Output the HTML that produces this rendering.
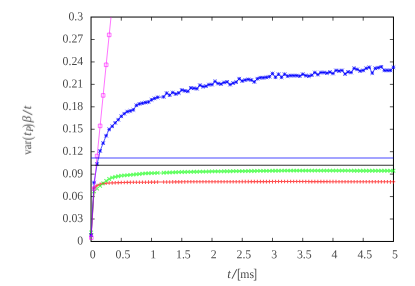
<!DOCTYPE html>
<html><head><meta charset="utf-8"><title>plot</title>
<style>html,body{margin:0;padding:0;background:#fff}svg{display:block}text{text-rendering:geometricPrecision;font-family:"Liberation Serif",serif;fill:#000}</style></head><body>
<svg width="415" height="286" viewBox="0 0 415 286">
<rect width="415" height="286" fill="#fff"/>
<g stroke="#000" stroke-width="1.00" fill="none">
<rect x="91.05" y="17.05" width="302.40" height="224.40"/>
</g>
<path d="M121.29 241.45v-3.60M121.29 17.05v3.60M151.53 241.45v-3.60M151.53 17.05v3.60M181.77 241.45v-3.60M181.77 17.05v3.60M212.01 241.45v-3.60M212.01 17.05v3.60M242.25 241.45v-3.60M242.25 17.05v3.60M272.49 241.45v-3.60M272.49 17.05v3.60M302.73 241.45v-3.60M302.73 17.05v3.60M332.97 241.45v-3.60M332.97 17.05v3.60M363.21 241.45v-3.60M363.21 17.05v3.60M91.05 219.01h3.60M393.45 219.01h-3.60M91.05 196.57h3.60M393.45 196.57h-3.60M91.05 174.13h3.60M393.45 174.13h-3.60M91.05 151.69h3.60M393.45 151.69h-3.60M91.05 129.25h3.60M393.45 129.25h-3.60M91.05 106.81h3.60M393.45 106.81h-3.60M91.05 84.37h3.60M393.45 84.37h-3.60M91.05 61.93h3.60M393.45 61.93h-3.60M91.05 39.49h3.60M393.45 39.49h-3.60" stroke="#000" stroke-width="0.68" fill="none"/>
<g fill="none" stroke-width="1.05" stroke-opacity="0.62">
<path stroke-opacity="0.68" stroke="#ff0000" d="M91.20 233.97L94.07 188.12L97.10 185.50L100.12 184.23L103.15 183.55L106.17 183.26L109.19 183.03L112.22 182.88L115.24 182.74L118.27 182.62L121.29 182.53L124.31 182.45L127.34 182.36L130.36 182.33L133.39 182.30L136.41 182.27L139.43 182.24L142.46 182.21L145.48 182.18L148.51 182.15L151.53 182.13L154.55 182.10L157.58 182.07L163.63 182.01L166.65 181.98L169.67 181.95L172.70 181.92L175.72 181.89L178.75 181.86L181.77 181.83L184.79 181.83L187.82 181.82L190.84 181.81L193.87 181.80L196.89 181.79L199.91 181.78L202.94 181.78L205.96 181.77L208.99 181.76L212.01 181.75L215.03 181.74L218.06 181.73L221.08 181.73L224.11 181.72L227.13 181.71L230.15 181.70L233.18 181.69L236.20 181.68L239.23 181.68L242.25 181.67L245.27 181.66L248.30 181.65L251.32 181.64L254.35 181.63L257.37 181.63L260.39 181.62L263.42 181.61L266.44 181.60L269.47 181.59L272.49 181.59L275.51 181.58L278.54 181.57L281.56 181.56L284.59 181.55L287.61 181.54L290.63 181.54L293.66 181.54L296.68 181.55L299.71 181.56L302.73 181.57L305.75 181.58L308.78 181.59L311.80 181.60L314.83 181.61L317.85 181.61L320.87 181.62L323.90 181.63L326.92 181.64L329.95 181.65L332.97 181.66L335.99 181.67L339.02 181.68L342.04 181.68L345.07 181.69L348.09 181.70L351.11 181.71L354.14 181.72L357.16 181.73L360.19 181.74L363.21 181.75L366.23 181.76L369.26 181.76L372.28 181.77L375.31 181.78L378.33 181.79L381.35 181.80L384.38 181.81L387.40 181.82L390.43 181.83L393.45 181.83M89.40 233.97h3.60M91.20 232.17v3.60M92.27 188.12h3.60M94.07 186.32v3.60M95.30 185.50h3.60M97.10 183.70v3.60M98.32 184.23h3.60M100.12 182.43v3.60M101.35 183.55h3.60M103.15 181.75v3.60M104.37 183.26h3.60M106.17 181.46v3.60M107.39 183.03h3.60M109.19 181.23v3.60M110.42 182.88h3.60M112.22 181.08v3.60M113.44 182.74h3.60M115.24 180.94v3.60M116.47 182.62h3.60M118.27 180.82v3.60M119.49 182.53h3.60M121.29 180.73v3.60M122.51 182.45h3.60M124.31 180.65v3.60M125.54 182.36h3.60M127.34 180.56v3.60M128.56 182.33h3.60M130.36 180.53v3.60M131.59 182.30h3.60M133.39 180.50v3.60M134.61 182.27h3.60M136.41 180.47v3.60M137.63 182.24h3.60M139.43 180.44v3.60M140.66 182.21h3.60M142.46 180.41v3.60M143.68 182.18h3.60M145.48 180.38v3.60M146.71 182.15h3.60M148.51 180.35v3.60M149.73 182.13h3.60M151.53 180.33v3.60M152.75 182.10h3.60M154.55 180.30v3.60M155.78 182.07h3.60M157.58 180.27v3.60M161.83 182.01h3.60M163.63 180.21v3.60M164.85 181.98h3.60M166.65 180.18v3.60M167.87 181.95h3.60M169.67 180.15v3.60M170.90 181.92h3.60M172.70 180.12v3.60M173.92 181.89h3.60M175.72 180.09v3.60M176.95 181.86h3.60M178.75 180.06v3.60M179.97 181.83h3.60M181.77 180.03v3.60M182.99 181.83h3.60M184.79 180.03v3.60M186.02 181.82h3.60M187.82 180.02v3.60M189.04 181.81h3.60M190.84 180.01v3.60M192.07 181.80h3.60M193.87 180.00v3.60M195.09 181.79h3.60M196.89 179.99v3.60M198.11 181.78h3.60M199.91 179.98v3.60M201.14 181.78h3.60M202.94 179.98v3.60M204.16 181.77h3.60M205.96 179.97v3.60M207.19 181.76h3.60M208.99 179.96v3.60M210.21 181.75h3.60M212.01 179.95v3.60M213.23 181.74h3.60M215.03 179.94v3.60M216.26 181.73h3.60M218.06 179.93v3.60M219.28 181.73h3.60M221.08 179.93v3.60M222.31 181.72h3.60M224.11 179.92v3.60M225.33 181.71h3.60M227.13 179.91v3.60M228.35 181.70h3.60M230.15 179.90v3.60M231.38 181.69h3.60M233.18 179.89v3.60M234.40 181.68h3.60M236.20 179.88v3.60M237.43 181.68h3.60M239.23 179.88v3.60M240.45 181.67h3.60M242.25 179.87v3.60M243.47 181.66h3.60M245.27 179.86v3.60M246.50 181.65h3.60M248.30 179.85v3.60M249.52 181.64h3.60M251.32 179.84v3.60M252.55 181.63h3.60M254.35 179.83v3.60M255.57 181.63h3.60M257.37 179.83v3.60M258.59 181.62h3.60M260.39 179.82v3.60M261.62 181.61h3.60M263.42 179.81v3.60M264.64 181.60h3.60M266.44 179.80v3.60M267.67 181.59h3.60M269.47 179.79v3.60M270.69 181.59h3.60M272.49 179.79v3.60M273.71 181.58h3.60M275.51 179.78v3.60M276.74 181.57h3.60M278.54 179.77v3.60M279.76 181.56h3.60M281.56 179.76v3.60M282.79 181.55h3.60M284.59 179.75v3.60M285.81 181.54h3.60M287.61 179.74v3.60M288.83 181.54h3.60M290.63 179.74v3.60M291.86 181.54h3.60M293.66 179.74v3.60M294.88 181.55h3.60M296.68 179.75v3.60M297.91 181.56h3.60M299.71 179.76v3.60M300.93 181.57h3.60M302.73 179.77v3.60M303.95 181.58h3.60M305.75 179.78v3.60M306.98 181.59h3.60M308.78 179.79v3.60M310.00 181.60h3.60M311.80 179.80v3.60M313.03 181.61h3.60M314.83 179.81v3.60M316.05 181.61h3.60M317.85 179.81v3.60M319.07 181.62h3.60M320.87 179.82v3.60M322.10 181.63h3.60M323.90 179.83v3.60M325.12 181.64h3.60M326.92 179.84v3.60M328.15 181.65h3.60M329.95 179.85v3.60M331.17 181.66h3.60M332.97 179.86v3.60M334.19 181.67h3.60M335.99 179.87v3.60M337.22 181.68h3.60M339.02 179.88v3.60M340.24 181.68h3.60M342.04 179.88v3.60M343.27 181.69h3.60M345.07 179.89v3.60M346.29 181.70h3.60M348.09 179.90v3.60M349.31 181.71h3.60M351.11 179.91v3.60M352.34 181.72h3.60M354.14 179.92v3.60M355.36 181.73h3.60M357.16 179.93v3.60M358.39 181.74h3.60M360.19 179.94v3.60M361.41 181.75h3.60M363.21 179.95v3.60M364.43 181.76h3.60M366.23 179.96v3.60M367.46 181.76h3.60M369.26 179.96v3.60M370.48 181.77h3.60M372.28 179.97v3.60M373.51 181.78h3.60M375.31 179.98v3.60M376.53 181.79h3.60M378.33 179.99v3.60M379.55 181.80h3.60M381.35 180.00v3.60M382.58 181.81h3.60M384.38 180.01v3.60M385.60 181.82h3.60M387.40 180.02v3.60M388.63 181.83h3.60M390.43 180.03v3.60M391.65 181.83h3.60M393.45 180.03v3.60"/>
<path stroke="#00ff00" d="M91.20 232.47L94.07 191.41L97.10 188.64L100.12 185.80L103.15 183.41L106.17 180.94L109.19 178.99L112.22 177.65L115.24 176.82L118.27 176.22L121.29 175.70L124.31 175.44L127.34 175.18L130.36 174.88L133.39 174.58L136.41 174.28L139.43 173.98L142.46 173.68L145.48 173.38L148.51 173.27L151.53 173.16L154.55 173.05L157.58 172.93L163.63 172.71L166.65 172.60L169.67 172.48L172.70 172.37L175.72 172.26L178.75 172.15L181.77 172.04L184.79 171.97L187.82 171.91L190.84 171.85L193.87 171.79L196.89 171.73L199.91 171.67L202.94 171.61L205.96 171.55L208.99 171.48L212.01 171.42L215.03 171.36L218.06 171.33L221.08 171.30L224.11 171.27L227.13 171.24L230.15 171.21L233.18 171.18L236.20 171.15L239.23 171.12L242.25 171.09L245.27 171.06L248.30 171.03L251.32 171.00L254.35 170.97L257.37 170.94L260.39 170.91L263.42 170.88L266.44 170.85L269.47 170.82L272.49 170.79L275.51 170.76L278.54 170.73L281.56 170.70L284.59 170.67L287.61 170.64L290.63 170.61L293.66 170.62L296.68 170.62L299.71 170.63L302.73 170.63L305.75 170.64L308.78 170.64L311.80 170.65L314.83 170.65L317.85 170.65L320.87 170.66L323.90 170.66L326.92 170.67L329.95 170.67L332.97 170.68L335.99 170.68L339.02 170.68L342.04 170.69L345.07 170.69L348.09 170.70L351.11 170.70L354.14 170.71L357.16 170.71L360.19 170.72L363.21 170.72L366.23 170.72L369.26 170.73L372.28 170.73L375.31 170.74L378.33 170.74L381.35 170.75L384.38 170.75L387.40 170.76L390.43 170.76L393.45 170.76M89.40 230.67l3.60 3.60M89.40 234.27l3.60 -3.60M92.27 189.61l3.60 3.60M92.27 193.21l3.60 -3.60M95.30 186.84l3.60 3.60M95.30 190.44l3.60 -3.60M98.32 184.00l3.60 3.60M98.32 187.60l3.60 -3.60M101.35 181.61l3.60 3.60M101.35 185.21l3.60 -3.60M104.37 179.14l3.60 3.60M104.37 182.74l3.60 -3.60M107.39 177.19l3.60 3.60M107.39 180.79l3.60 -3.60M110.42 175.85l3.60 3.60M110.42 179.45l3.60 -3.60M113.44 175.02l3.60 3.60M113.44 178.62l3.60 -3.60M116.47 174.42l3.60 3.60M116.47 178.02l3.60 -3.60M119.49 173.90l3.60 3.60M119.49 177.50l3.60 -3.60M122.51 173.64l3.60 3.60M122.51 177.24l3.60 -3.60M125.54 173.38l3.60 3.60M125.54 176.98l3.60 -3.60M128.56 173.08l3.60 3.60M128.56 176.68l3.60 -3.60M131.59 172.78l3.60 3.60M131.59 176.38l3.60 -3.60M134.61 172.48l3.60 3.60M134.61 176.08l3.60 -3.60M137.63 172.18l3.60 3.60M137.63 175.78l3.60 -3.60M140.66 171.88l3.60 3.60M140.66 175.48l3.60 -3.60M143.68 171.58l3.60 3.60M143.68 175.18l3.60 -3.60M146.71 171.47l3.60 3.60M146.71 175.07l3.60 -3.60M149.73 171.36l3.60 3.60M149.73 174.96l3.60 -3.60M152.75 171.25l3.60 3.60M152.75 174.85l3.60 -3.60M155.78 171.13l3.60 3.60M155.78 174.73l3.60 -3.60M161.83 170.91l3.60 3.60M161.83 174.51l3.60 -3.60M164.85 170.80l3.60 3.60M164.85 174.40l3.60 -3.60M167.87 170.68l3.60 3.60M167.87 174.28l3.60 -3.60M170.90 170.57l3.60 3.60M170.90 174.17l3.60 -3.60M173.92 170.46l3.60 3.60M173.92 174.06l3.60 -3.60M176.95 170.35l3.60 3.60M176.95 173.95l3.60 -3.60M179.97 170.24l3.60 3.60M179.97 173.84l3.60 -3.60M182.99 170.17l3.60 3.60M182.99 173.77l3.60 -3.60M186.02 170.11l3.60 3.60M186.02 173.71l3.60 -3.60M189.04 170.05l3.60 3.60M189.04 173.65l3.60 -3.60M192.07 169.99l3.60 3.60M192.07 173.59l3.60 -3.60M195.09 169.93l3.60 3.60M195.09 173.53l3.60 -3.60M198.11 169.87l3.60 3.60M198.11 173.47l3.60 -3.60M201.14 169.81l3.60 3.60M201.14 173.41l3.60 -3.60M204.16 169.75l3.60 3.60M204.16 173.35l3.60 -3.60M207.19 169.68l3.60 3.60M207.19 173.28l3.60 -3.60M210.21 169.62l3.60 3.60M210.21 173.22l3.60 -3.60M213.23 169.56l3.60 3.60M213.23 173.16l3.60 -3.60M216.26 169.53l3.60 3.60M216.26 173.13l3.60 -3.60M219.28 169.50l3.60 3.60M219.28 173.10l3.60 -3.60M222.31 169.47l3.60 3.60M222.31 173.07l3.60 -3.60M225.33 169.44l3.60 3.60M225.33 173.04l3.60 -3.60M228.35 169.41l3.60 3.60M228.35 173.01l3.60 -3.60M231.38 169.38l3.60 3.60M231.38 172.98l3.60 -3.60M234.40 169.35l3.60 3.60M234.40 172.95l3.60 -3.60M237.43 169.32l3.60 3.60M237.43 172.92l3.60 -3.60M240.45 169.29l3.60 3.60M240.45 172.89l3.60 -3.60M243.47 169.26l3.60 3.60M243.47 172.86l3.60 -3.60M246.50 169.23l3.60 3.60M246.50 172.83l3.60 -3.60M249.52 169.20l3.60 3.60M249.52 172.80l3.60 -3.60M252.55 169.17l3.60 3.60M252.55 172.77l3.60 -3.60M255.57 169.14l3.60 3.60M255.57 172.74l3.60 -3.60M258.59 169.11l3.60 3.60M258.59 172.71l3.60 -3.60M261.62 169.08l3.60 3.60M261.62 172.68l3.60 -3.60M264.64 169.05l3.60 3.60M264.64 172.65l3.60 -3.60M267.67 169.02l3.60 3.60M267.67 172.62l3.60 -3.60M270.69 168.99l3.60 3.60M270.69 172.59l3.60 -3.60M273.71 168.96l3.60 3.60M273.71 172.56l3.60 -3.60M276.74 168.93l3.60 3.60M276.74 172.53l3.60 -3.60M279.76 168.90l3.60 3.60M279.76 172.50l3.60 -3.60M282.79 168.87l3.60 3.60M282.79 172.47l3.60 -3.60M285.81 168.84l3.60 3.60M285.81 172.44l3.60 -3.60M288.83 168.81l3.60 3.60M288.83 172.41l3.60 -3.60M291.86 168.82l3.60 3.60M291.86 172.42l3.60 -3.60M294.88 168.82l3.60 3.60M294.88 172.42l3.60 -3.60M297.91 168.83l3.60 3.60M297.91 172.43l3.60 -3.60M300.93 168.83l3.60 3.60M300.93 172.43l3.60 -3.60M303.95 168.84l3.60 3.60M303.95 172.44l3.60 -3.60M306.98 168.84l3.60 3.60M306.98 172.44l3.60 -3.60M310.00 168.85l3.60 3.60M310.00 172.45l3.60 -3.60M313.03 168.85l3.60 3.60M313.03 172.45l3.60 -3.60M316.05 168.85l3.60 3.60M316.05 172.45l3.60 -3.60M319.07 168.86l3.60 3.60M319.07 172.46l3.60 -3.60M322.10 168.86l3.60 3.60M322.10 172.46l3.60 -3.60M325.12 168.87l3.60 3.60M325.12 172.47l3.60 -3.60M328.15 168.87l3.60 3.60M328.15 172.47l3.60 -3.60M331.17 168.88l3.60 3.60M331.17 172.48l3.60 -3.60M334.19 168.88l3.60 3.60M334.19 172.48l3.60 -3.60M337.22 168.88l3.60 3.60M337.22 172.48l3.60 -3.60M340.24 168.89l3.60 3.60M340.24 172.49l3.60 -3.60M343.27 168.89l3.60 3.60M343.27 172.49l3.60 -3.60M346.29 168.90l3.60 3.60M346.29 172.50l3.60 -3.60M349.31 168.90l3.60 3.60M349.31 172.50l3.60 -3.60M352.34 168.91l3.60 3.60M352.34 172.51l3.60 -3.60M355.36 168.91l3.60 3.60M355.36 172.51l3.60 -3.60M358.39 168.92l3.60 3.60M358.39 172.52l3.60 -3.60M361.41 168.92l3.60 3.60M361.41 172.52l3.60 -3.60M364.43 168.92l3.60 3.60M364.43 172.52l3.60 -3.60M367.46 168.93l3.60 3.60M367.46 172.53l3.60 -3.60M370.48 168.93l3.60 3.60M370.48 172.53l3.60 -3.60M373.51 168.94l3.60 3.60M373.51 172.54l3.60 -3.60M376.53 168.94l3.60 3.60M376.53 172.54l3.60 -3.60M379.55 168.95l3.60 3.60M379.55 172.55l3.60 -3.60M382.58 168.95l3.60 3.60M382.58 172.55l3.60 -3.60M385.60 168.96l3.60 3.60M385.60 172.56l3.60 -3.60M388.63 168.96l3.60 3.60M388.63 172.56l3.60 -3.60M391.65 168.96l3.60 3.60M391.65 172.56l3.60 -3.60"/>
<g stroke="#0000ff" stroke-opacity="1" stroke-width="0.68"><path d="M91.20 235.20L94.07 182.60L97.10 164.00L100.12 150.90L103.15 143.10L106.17 135.70L109.19 129.40L112.22 126.30L115.24 122.80L118.27 119.70L121.29 116.30L124.31 113.70L127.34 111.60L130.36 110.90L133.39 109.80L136.41 105.30L139.43 103.90L142.46 103.18L145.48 102.50L148.51 102.00L151.53 99.80L154.55 98.40L157.58 97.30L163.63 96.90L166.65 93.10L169.67 95.20L172.70 92.50L175.72 94.00L178.75 92.90L181.77 90.00L184.79 90.80L187.82 91.40L190.84 87.90L193.87 88.30L196.89 88.70L199.91 85.20L202.94 86.60L205.96 86.20L208.99 84.60L212.01 84.60L215.03 81.40L218.06 83.50L221.08 84.00L224.11 82.50L227.13 81.90L230.15 84.60L233.18 83.10L236.20 82.10L239.23 78.70L242.25 81.00L245.27 80.00L248.30 79.40L251.32 80.00L254.35 81.90L257.37 78.70L260.39 77.70L263.42 77.70L266.44 77.30L269.47 76.70L272.49 73.50L275.51 77.30L278.54 74.20L281.56 77.30L284.59 74.20L287.61 76.10L290.63 75.60L293.66 75.60L296.68 75.60L299.71 76.10L302.73 74.20L305.75 75.60L308.78 76.10L311.80 75.20L314.83 72.50L317.85 74.60L320.87 72.50L323.90 72.50L326.92 73.10L329.95 72.10L332.97 73.50L335.99 70.40L339.02 71.00L342.04 70.40L345.07 74.00L348.09 71.90L351.11 72.50L354.14 68.30L357.16 69.40L360.19 71.00L363.21 70.40L366.23 68.30L369.26 67.30L372.28 73.10L375.31 68.30L378.33 67.70L381.35 66.80L384.38 70.40L387.40 70.40L390.43 70.40L393.45 67.30"/><path d="M89.40 235.20h3.60M91.20 233.40v3.60M92.27 182.60h3.60M94.07 180.80v3.60M95.30 164.00h3.60M97.10 162.20v3.60M98.32 150.90h3.60M100.12 149.10v3.60M101.35 143.10h3.60M103.15 141.30v3.60M104.37 135.70h3.60M106.17 133.90v3.60M107.39 129.40h3.60M109.19 127.60v3.60M110.42 126.30h3.60M112.22 124.50v3.60M113.44 122.80h3.60M115.24 121.00v3.60M116.47 119.70h3.60M118.27 117.90v3.60M119.49 116.30h3.60M121.29 114.50v3.60M122.51 113.70h3.60M124.31 111.90v3.60M125.54 111.60h3.60M127.34 109.80v3.60M128.56 110.90h3.60M130.36 109.10v3.60M131.59 109.80h3.60M133.39 108.00v3.60M134.61 105.30h3.60M136.41 103.50v3.60M137.63 103.90h3.60M139.43 102.10v3.60M140.66 103.18h3.60M142.46 101.38v3.60M143.68 102.50h3.60M145.48 100.70v3.60M146.71 102.00h3.60M148.51 100.20v3.60M149.73 99.80h3.60M151.53 98.00v3.60M152.75 98.40h3.60M154.55 96.60v3.60M155.78 97.30h3.60M157.58 95.50v3.60M161.83 96.90h3.60M163.63 95.10v3.60M164.85 93.10h3.60M166.65 91.30v3.60M167.87 95.20h3.60M169.67 93.40v3.60M170.90 92.50h3.60M172.70 90.70v3.60M173.92 94.00h3.60M175.72 92.20v3.60M176.95 92.90h3.60M178.75 91.10v3.60M179.97 90.00h3.60M181.77 88.20v3.60M182.99 90.80h3.60M184.79 89.00v3.60M186.02 91.40h3.60M187.82 89.60v3.60M189.04 87.90h3.60M190.84 86.10v3.60M192.07 88.30h3.60M193.87 86.50v3.60M195.09 88.70h3.60M196.89 86.90v3.60M198.11 85.20h3.60M199.91 83.40v3.60M201.14 86.60h3.60M202.94 84.80v3.60M204.16 86.20h3.60M205.96 84.40v3.60M207.19 84.60h3.60M208.99 82.80v3.60M210.21 84.60h3.60M212.01 82.80v3.60M213.23 81.40h3.60M215.03 79.60v3.60M216.26 83.50h3.60M218.06 81.70v3.60M219.28 84.00h3.60M221.08 82.20v3.60M222.31 82.50h3.60M224.11 80.70v3.60M225.33 81.90h3.60M227.13 80.10v3.60M228.35 84.60h3.60M230.15 82.80v3.60M231.38 83.10h3.60M233.18 81.30v3.60M234.40 82.10h3.60M236.20 80.30v3.60M237.43 78.70h3.60M239.23 76.90v3.60M240.45 81.00h3.60M242.25 79.20v3.60M243.47 80.00h3.60M245.27 78.20v3.60M246.50 79.40h3.60M248.30 77.60v3.60M249.52 80.00h3.60M251.32 78.20v3.60M252.55 81.90h3.60M254.35 80.10v3.60M255.57 78.70h3.60M257.37 76.90v3.60M258.59 77.70h3.60M260.39 75.90v3.60M261.62 77.70h3.60M263.42 75.90v3.60M264.64 77.30h3.60M266.44 75.50v3.60M267.67 76.70h3.60M269.47 74.90v3.60M270.69 73.50h3.60M272.49 71.70v3.60M273.71 77.30h3.60M275.51 75.50v3.60M276.74 74.20h3.60M278.54 72.40v3.60M279.76 77.30h3.60M281.56 75.50v3.60M282.79 74.20h3.60M284.59 72.40v3.60M285.81 76.10h3.60M287.61 74.30v3.60M288.83 75.60h3.60M290.63 73.80v3.60M291.86 75.60h3.60M293.66 73.80v3.60M294.88 75.60h3.60M296.68 73.80v3.60M297.91 76.10h3.60M299.71 74.30v3.60M300.93 74.20h3.60M302.73 72.40v3.60M303.95 75.60h3.60M305.75 73.80v3.60M306.98 76.10h3.60M308.78 74.30v3.60M310.00 75.20h3.60M311.80 73.40v3.60M313.03 72.50h3.60M314.83 70.70v3.60M316.05 74.60h3.60M317.85 72.80v3.60M319.07 72.50h3.60M320.87 70.70v3.60M322.10 72.50h3.60M323.90 70.70v3.60M325.12 73.10h3.60M326.92 71.30v3.60M328.15 72.10h3.60M329.95 70.30v3.60M331.17 73.50h3.60M332.97 71.70v3.60M334.19 70.40h3.60M335.99 68.60v3.60M337.22 71.00h3.60M339.02 69.20v3.60M340.24 70.40h3.60M342.04 68.60v3.60M343.27 74.00h3.60M345.07 72.20v3.60M346.29 71.90h3.60M348.09 70.10v3.60M349.31 72.50h3.60M351.11 70.70v3.60M352.34 68.30h3.60M354.14 66.50v3.60M355.36 69.40h3.60M357.16 67.60v3.60M358.39 71.00h3.60M360.19 69.20v3.60M361.41 70.40h3.60M363.21 68.60v3.60M364.43 68.30h3.60M366.23 66.50v3.60M367.46 67.30h3.60M369.26 65.50v3.60M370.48 73.10h3.60M372.28 71.30v3.60M373.51 68.30h3.60M375.31 66.50v3.60M376.53 67.70h3.60M378.33 65.90v3.60M379.55 66.80h3.60M381.35 65.00v3.60M382.58 70.40h3.60M384.38 68.60v3.60M385.60 70.40h3.60M387.40 68.60v3.60M388.63 70.40h3.60M390.43 68.60v3.60M391.65 67.30h3.60M393.45 65.50v3.60M89.40 233.40l3.60 3.60M89.40 237.00l3.60 -3.60M92.27 180.80l3.60 3.60M92.27 184.40l3.60 -3.60M95.30 162.20l3.60 3.60M95.30 165.80l3.60 -3.60M98.32 149.10l3.60 3.60M98.32 152.70l3.60 -3.60M101.35 141.30l3.60 3.60M101.35 144.90l3.60 -3.60M104.37 133.90l3.60 3.60M104.37 137.50l3.60 -3.60M107.39 127.60l3.60 3.60M107.39 131.20l3.60 -3.60M110.42 124.50l3.60 3.60M110.42 128.10l3.60 -3.60M113.44 121.00l3.60 3.60M113.44 124.60l3.60 -3.60M116.47 117.90l3.60 3.60M116.47 121.50l3.60 -3.60M119.49 114.50l3.60 3.60M119.49 118.10l3.60 -3.60M122.51 111.90l3.60 3.60M122.51 115.50l3.60 -3.60M125.54 109.80l3.60 3.60M125.54 113.40l3.60 -3.60M128.56 109.10l3.60 3.60M128.56 112.70l3.60 -3.60M131.59 108.00l3.60 3.60M131.59 111.60l3.60 -3.60M134.61 103.50l3.60 3.60M134.61 107.10l3.60 -3.60M137.63 102.10l3.60 3.60M137.63 105.70l3.60 -3.60M140.66 101.38l3.60 3.60M140.66 104.98l3.60 -3.60M143.68 100.70l3.60 3.60M143.68 104.30l3.60 -3.60M146.71 100.20l3.60 3.60M146.71 103.80l3.60 -3.60M149.73 98.00l3.60 3.60M149.73 101.60l3.60 -3.60M152.75 96.60l3.60 3.60M152.75 100.20l3.60 -3.60M155.78 95.50l3.60 3.60M155.78 99.10l3.60 -3.60M161.83 95.10l3.60 3.60M161.83 98.70l3.60 -3.60M164.85 91.30l3.60 3.60M164.85 94.90l3.60 -3.60M167.87 93.40l3.60 3.60M167.87 97.00l3.60 -3.60M170.90 90.70l3.60 3.60M170.90 94.30l3.60 -3.60M173.92 92.20l3.60 3.60M173.92 95.80l3.60 -3.60M176.95 91.10l3.60 3.60M176.95 94.70l3.60 -3.60M179.97 88.20l3.60 3.60M179.97 91.80l3.60 -3.60M182.99 89.00l3.60 3.60M182.99 92.60l3.60 -3.60M186.02 89.60l3.60 3.60M186.02 93.20l3.60 -3.60M189.04 86.10l3.60 3.60M189.04 89.70l3.60 -3.60M192.07 86.50l3.60 3.60M192.07 90.10l3.60 -3.60M195.09 86.90l3.60 3.60M195.09 90.50l3.60 -3.60M198.11 83.40l3.60 3.60M198.11 87.00l3.60 -3.60M201.14 84.80l3.60 3.60M201.14 88.40l3.60 -3.60M204.16 84.40l3.60 3.60M204.16 88.00l3.60 -3.60M207.19 82.80l3.60 3.60M207.19 86.40l3.60 -3.60M210.21 82.80l3.60 3.60M210.21 86.40l3.60 -3.60M213.23 79.60l3.60 3.60M213.23 83.20l3.60 -3.60M216.26 81.70l3.60 3.60M216.26 85.30l3.60 -3.60M219.28 82.20l3.60 3.60M219.28 85.80l3.60 -3.60M222.31 80.70l3.60 3.60M222.31 84.30l3.60 -3.60M225.33 80.10l3.60 3.60M225.33 83.70l3.60 -3.60M228.35 82.80l3.60 3.60M228.35 86.40l3.60 -3.60M231.38 81.30l3.60 3.60M231.38 84.90l3.60 -3.60M234.40 80.30l3.60 3.60M234.40 83.90l3.60 -3.60M237.43 76.90l3.60 3.60M237.43 80.50l3.60 -3.60M240.45 79.20l3.60 3.60M240.45 82.80l3.60 -3.60M243.47 78.20l3.60 3.60M243.47 81.80l3.60 -3.60M246.50 77.60l3.60 3.60M246.50 81.20l3.60 -3.60M249.52 78.20l3.60 3.60M249.52 81.80l3.60 -3.60M252.55 80.10l3.60 3.60M252.55 83.70l3.60 -3.60M255.57 76.90l3.60 3.60M255.57 80.50l3.60 -3.60M258.59 75.90l3.60 3.60M258.59 79.50l3.60 -3.60M261.62 75.90l3.60 3.60M261.62 79.50l3.60 -3.60M264.64 75.50l3.60 3.60M264.64 79.10l3.60 -3.60M267.67 74.90l3.60 3.60M267.67 78.50l3.60 -3.60M270.69 71.70l3.60 3.60M270.69 75.30l3.60 -3.60M273.71 75.50l3.60 3.60M273.71 79.10l3.60 -3.60M276.74 72.40l3.60 3.60M276.74 76.00l3.60 -3.60M279.76 75.50l3.60 3.60M279.76 79.10l3.60 -3.60M282.79 72.40l3.60 3.60M282.79 76.00l3.60 -3.60M285.81 74.30l3.60 3.60M285.81 77.90l3.60 -3.60M288.83 73.80l3.60 3.60M288.83 77.40l3.60 -3.60M291.86 73.80l3.60 3.60M291.86 77.40l3.60 -3.60M294.88 73.80l3.60 3.60M294.88 77.40l3.60 -3.60M297.91 74.30l3.60 3.60M297.91 77.90l3.60 -3.60M300.93 72.40l3.60 3.60M300.93 76.00l3.60 -3.60M303.95 73.80l3.60 3.60M303.95 77.40l3.60 -3.60M306.98 74.30l3.60 3.60M306.98 77.90l3.60 -3.60M310.00 73.40l3.60 3.60M310.00 77.00l3.60 -3.60M313.03 70.70l3.60 3.60M313.03 74.30l3.60 -3.60M316.05 72.80l3.60 3.60M316.05 76.40l3.60 -3.60M319.07 70.70l3.60 3.60M319.07 74.30l3.60 -3.60M322.10 70.70l3.60 3.60M322.10 74.30l3.60 -3.60M325.12 71.30l3.60 3.60M325.12 74.90l3.60 -3.60M328.15 70.30l3.60 3.60M328.15 73.90l3.60 -3.60M331.17 71.70l3.60 3.60M331.17 75.30l3.60 -3.60M334.19 68.60l3.60 3.60M334.19 72.20l3.60 -3.60M337.22 69.20l3.60 3.60M337.22 72.80l3.60 -3.60M340.24 68.60l3.60 3.60M340.24 72.20l3.60 -3.60M343.27 72.20l3.60 3.60M343.27 75.80l3.60 -3.60M346.29 70.10l3.60 3.60M346.29 73.70l3.60 -3.60M349.31 70.70l3.60 3.60M349.31 74.30l3.60 -3.60M352.34 66.50l3.60 3.60M352.34 70.10l3.60 -3.60M355.36 67.60l3.60 3.60M355.36 71.20l3.60 -3.60M358.39 69.20l3.60 3.60M358.39 72.80l3.60 -3.60M361.41 68.60l3.60 3.60M361.41 72.20l3.60 -3.60M364.43 66.50l3.60 3.60M364.43 70.10l3.60 -3.60M367.46 65.50l3.60 3.60M367.46 69.10l3.60 -3.60M370.48 71.30l3.60 3.60M370.48 74.90l3.60 -3.60M373.51 66.50l3.60 3.60M373.51 70.10l3.60 -3.60M376.53 65.90l3.60 3.60M376.53 69.50l3.60 -3.60M379.55 65.00l3.60 3.60M379.55 68.60l3.60 -3.60M382.58 68.60l3.60 3.60M382.58 72.20l3.60 -3.60M385.60 68.60l3.60 3.60M385.60 72.20l3.60 -3.60M388.63 68.60l3.60 3.60M388.63 72.20l3.60 -3.60M391.65 65.50l3.60 3.60M391.65 69.10l3.60 -3.60"/></g>
<g stroke="#ff00ff" stroke-opacity="1" stroke-width="0.55"><path d="M91.30 237.60L94.07 188.60L97.10 156.00L100.12 125.90L103.15 95.40L106.17 64.80L109.19 34.90L111.00 17.05"/><path d="M89.50 235.80h3.60v3.60h-3.60zM92.27 186.80h3.60v3.60h-3.60zM95.30 154.20h3.60v3.60h-3.60zM98.32 124.10h3.60v3.60h-3.60zM101.35 93.60h3.60v3.60h-3.60zM104.37 63.00h3.60v3.60h-3.60zM107.39 33.10h3.60v3.60h-3.60z"/></g>
<path d="M91.05 158.0H393.45" stroke="#0000ff" stroke-opacity="0.72"/>
<path d="M91.05 165.3H393.45" stroke="#000" stroke-opacity="0.8"/>
</g>
<g font-size="12.2" opacity="0.740">
<text transform="translate(83.20,244.55) rotate(0.05) scale(0.970,1)" text-anchor="end">0</text>
<text transform="translate(83.20,222.11) rotate(0.05) scale(0.970,1)" text-anchor="end">0.03</text>
<text transform="translate(83.20,199.67) rotate(0.05) scale(0.970,1)" text-anchor="end">0.06</text>
<text transform="translate(83.20,177.23) rotate(0.05) scale(0.970,1)" text-anchor="end">0.09</text>
<text transform="translate(83.20,154.79) rotate(0.05) scale(0.970,1)" text-anchor="end">0.12</text>
<text transform="translate(83.20,132.35) rotate(0.05) scale(0.970,1)" text-anchor="end">0.15</text>
<text transform="translate(83.20,109.91) rotate(0.05) scale(0.970,1)" text-anchor="end">0.18</text>
<text transform="translate(83.20,87.47) rotate(0.05) scale(0.970,1)" text-anchor="end">0.21</text>
<text transform="translate(83.20,65.03) rotate(0.05) scale(0.970,1)" text-anchor="end">0.24</text>
<text transform="translate(83.20,42.59) rotate(0.05) scale(0.970,1)" text-anchor="end">0.27</text>
<text transform="translate(83.20,20.15) rotate(0.05) scale(0.970,1)" text-anchor="end">0.3</text>
<text transform="translate(92.65,258.30) rotate(0.05) scale(0.970,1)" text-anchor="middle">0</text>
<text transform="translate(122.89,258.30) rotate(0.05) scale(0.970,1)" text-anchor="middle">0.5</text>
<text transform="translate(153.13,258.30) rotate(0.05) scale(0.970,1)" text-anchor="middle">1</text>
<text transform="translate(183.37,258.30) rotate(0.05) scale(0.970,1)" text-anchor="middle">1.5</text>
<text transform="translate(213.61,258.30) rotate(0.05) scale(0.970,1)" text-anchor="middle">2</text>
<text transform="translate(243.85,258.30) rotate(0.05) scale(0.970,1)" text-anchor="middle">2.5</text>
<text transform="translate(274.09,258.30) rotate(0.05) scale(0.970,1)" text-anchor="middle">3</text>
<text transform="translate(304.33,258.30) rotate(0.05) scale(0.970,1)" text-anchor="middle">3.5</text>
<text transform="translate(334.57,258.30) rotate(0.05) scale(0.970,1)" text-anchor="middle">4</text>
<text transform="translate(364.81,258.30) rotate(0.05) scale(0.970,1)" text-anchor="middle">4.5</text>
<text transform="translate(395.05,258.30) rotate(0.05) scale(0.970,1)" text-anchor="middle">5</text>
<text transform="translate(0,277.7) rotate(0.05)"><tspan x="227.20" y="0.00" font-size="13.0" font-style="italic">t</tspan><tspan x="231.40" y="0.50" font-size="14.0" textLength="5.77" lengthAdjust="spacingAndGlyphs">/</tspan><tspan x="237.00" y="0.50" font-size="14.0" textLength="3.86" lengthAdjust="spacingAndGlyphs">[</tspan><tspan x="240.20" y="0.00" font-size="12.2" textLength="13.80" lengthAdjust="spacingAndGlyphs">ms</tspan><tspan x="253.20" y="0.50" font-size="14.0" textLength="3.86" lengthAdjust="spacingAndGlyphs">]</tspan></text>
<text transform="translate(31.1,154.8) rotate(-90)"><tspan x="0.00" y="0.00" font-size="12.2" textLength="14.30" lengthAdjust="spacingAndGlyphs">var</tspan><tspan x="14.80" y="0.50" font-size="14.0" textLength="3.66" lengthAdjust="spacingAndGlyphs">(</tspan><tspan x="18.90" y="0.00" font-size="13.0" font-style="italic">t</tspan><tspan x="23.00" y="2.10" font-size="9.8" font-style="italic">P</tspan><tspan x="27.30" y="0.50" font-size="14.0" textLength="3.66" lengthAdjust="spacingAndGlyphs">)</tspan><tspan x="32.40" y="0.00" font-size="12.8" font-style="italic">β</tspan><tspan x="39.40" y="0.50" font-size="14.0" textLength="5.77" lengthAdjust="spacingAndGlyphs">/</tspan><tspan x="45.60" y="0.00" font-size="13.0" font-style="italic">t</tspan></text>
</g>
</g>
</svg></body></html>
